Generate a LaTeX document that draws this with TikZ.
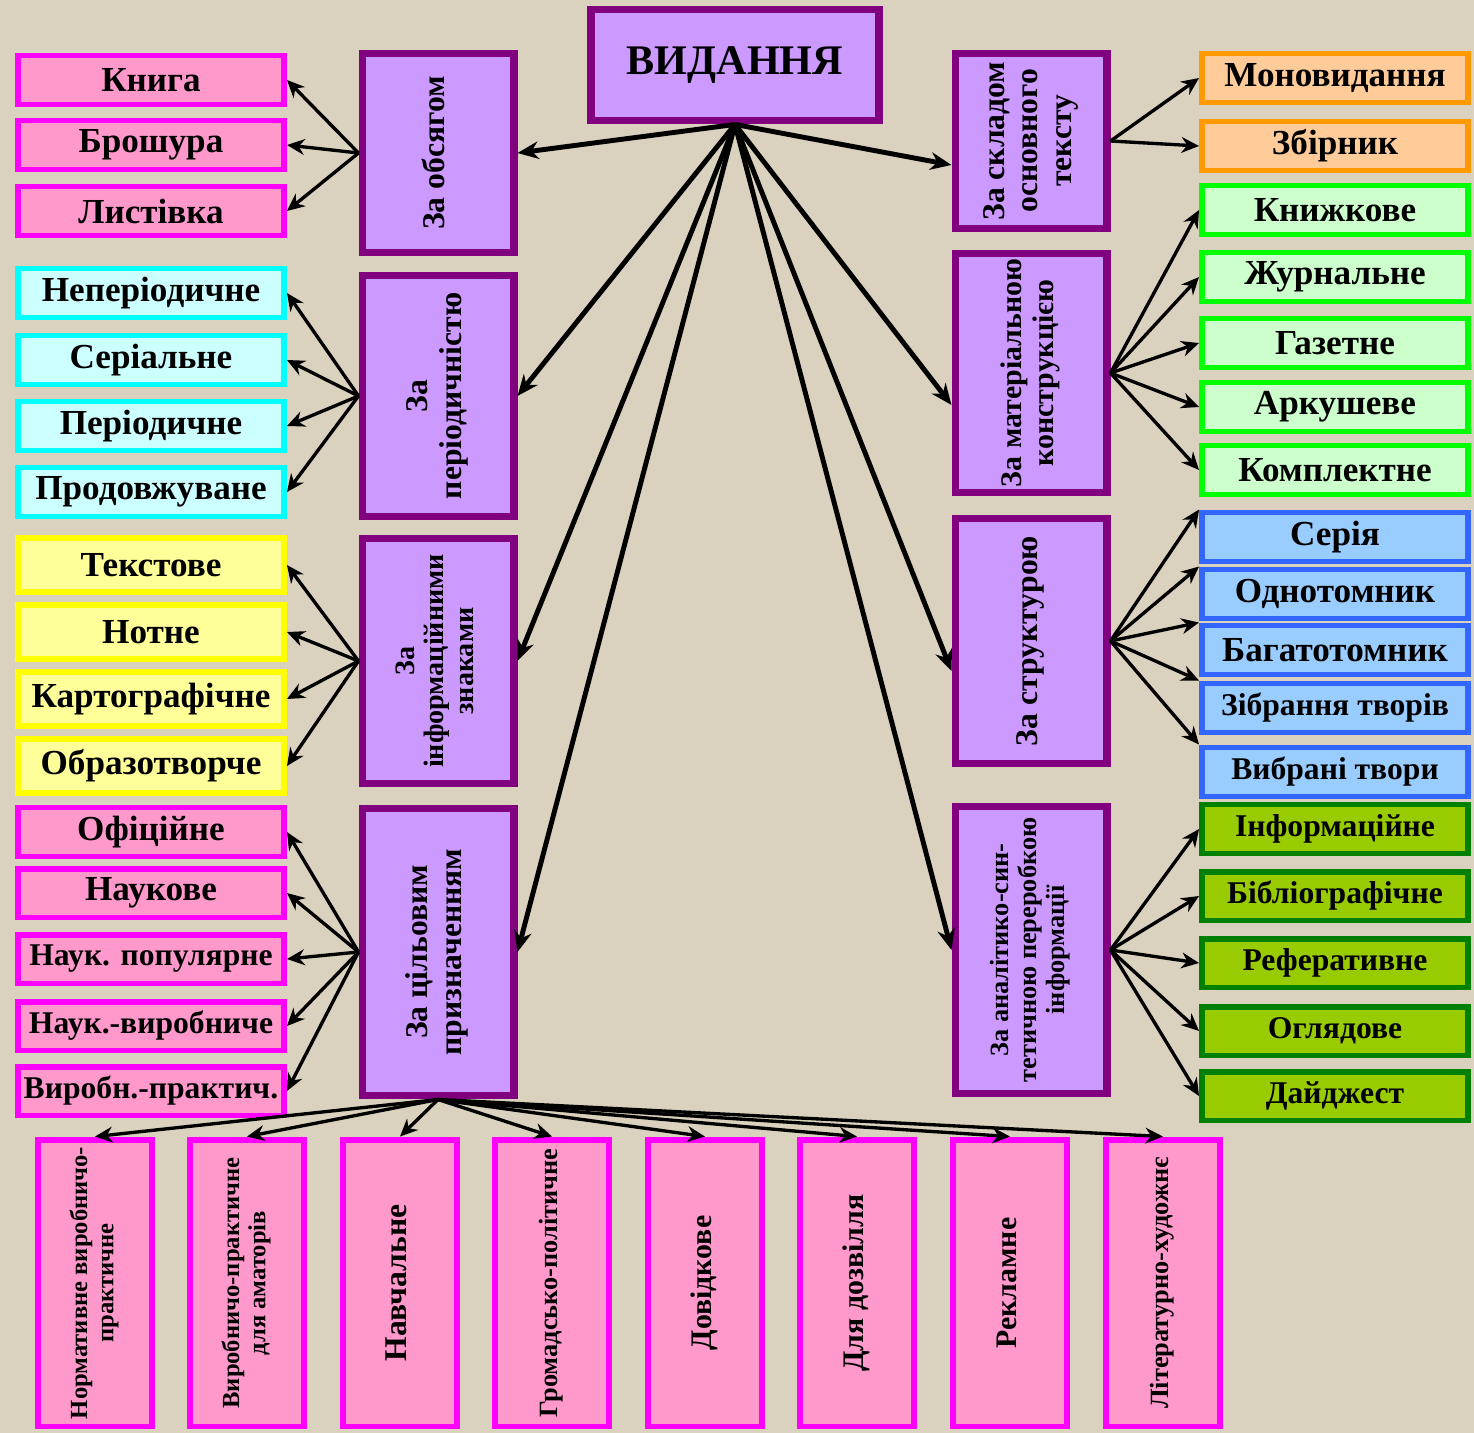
\documentclass[tikz,border=0pt]{standalone}
\usepackage{fontspec}
\setmainfont{Liberation Serif}
\usepackage{graphicx}
\usetikzlibrary{arrows.meta}

\definecolor{paper}{RGB}{218,210,190}
\definecolor{lilac}{HTML}{CC99FF}
\definecolor{plum}{HTML}{800080}
\definecolor{rosefill}{HTML}{FF99CC}
\definecolor{roseline}{HTML}{FF00FF}
\definecolor{icefill}{HTML}{CCFFFF}
\definecolor{iceline}{HTML}{00FFFF}
\definecolor{lemonfill}{HTML}{FFFF99}
\definecolor{lemonline}{HTML}{FFFF00}
\definecolor{peachfill}{HTML}{FFCC99}
\definecolor{peachline}{HTML}{FF9900}
\definecolor{mintfill}{HTML}{CCFFCC}
\definecolor{mintline}{HTML}{00FF00}
\definecolor{skyfill}{HTML}{99CCFF}
\definecolor{skyline}{HTML}{3366FF}
\definecolor{limefill}{HTML}{99CC00}
\definecolor{limeline}{HTML}{008000}

\newcommand{\sidetext}[1]{\rotatebox{90}{\begin{tabular}{@{}c@{}}#1\end{tabular}}}

\begin{document}
\begin{tikzpicture}[
        x=0.02cm, y=-0.02cm,
        root/.style={
                draw=plum,
                fill=lilac,
                line width=4.5pt,
                minimum width=5.76cm,
                minimum height=2.22cm,
                inner sep=0pt,
                font=\fontsize{24}{26}\selectfont\bfseries
            },
        kind/.style={
                draw=plum,
                fill=lilac,
                line width=4pt,
                minimum width=3.04cm,
                inner sep=0pt,
                font=\fontsize{18}{19}\selectfont\bfseries
            },
        leaf/.style={
                line width=3.4pt,
                minimum width=5.32cm,
                minimum height=0.98cm,
                inner sep=0pt,
                font=\fontsize{20}{22}\selectfont\bfseries
            },
        roseleaf/.style={leaf, draw=roseline, fill=rosefill},
        iceleaf/.style={leaf, draw=iceline, fill=icefill},
        lemonleaf/.style={leaf, draw=lemonline, fill=lemonfill, minimum height=1.08cm},
        peachleaf/.style={leaf, draw=peachline, fill=peachfill},
        mintleaf/.style={leaf, draw=mintline, fill=mintfill},
        skyleaf/.style={leaf, draw=skyline, fill=skyfill},
        limeleaf/.style={leaf, draw=limeline, fill=limefill},
        narrow/.style={font=\fontsize{18}{19}\selectfont\bfseries},
        tall/.style={
                draw=roseline,
                fill=rosefill,
                line width=3.4pt,
                minimum width=2.28cm,
                minimum height=5.74cm,
                inner sep=0pt,
                font=\fontsize{17}{18}\selectfont\bfseries
            },
        link/.style={-{Stealth[length=10pt, width=9pt]}, line width=1.9pt},
        trunk/.style={-{Stealth[length=12pt, width=10pt]}, line width=2.8pt}
    ]
    \fill[paper] (0,0) rectangle (1474,1433);

    % root and the eight kinds
    \node[root] (issue) at (735,65) {ВИДАННЯ};

    \node[kind, minimum height=4.0cm] (volume) at (438,153) {\sidetext{За обсягом}};
    \node[kind, minimum height=4.82cm] (period) at (438,396) {\sidetext{За\\періодичністю}};
    \node[kind, minimum height=4.92cm, font=\fontsize{16}{17}\selectfont\bfseries] (signs) at (438,661) {\sidetext{За\\інформаційними\\знаками}};
    \node[kind, minimum height=5.76cm] (purpose) at (438,952) {\sidetext{За цільовим\\призначенням}};

    \node[kind, minimum height=3.5cm] (content) at (1031,141) {\sidetext{За складом\\основного\\тексту}};
    \node[kind, minimum height=4.8cm, font=\fontsize{17}{18}\selectfont\bfseries] (material) at (1031,373) {\sidetext{За матеріальною\\конструкцією}};
    \node[kind, minimum height=4.9cm] (structure) at (1031,641) {\sidetext{За структурою}};
    \node[kind, minimum height=5.76cm, font=\fontsize{15}{16}\selectfont\bfseries] (analytic) at (1031,950) {\sidetext{За аналітико-син-\\тетичною переробкою\\інформації}};

    % left column
    \node[roseleaf] (book) at (151,80) {Книга};
    \node[roseleaf] (brochure) at (151,145) {Брошура};
    \node[roseleaf] (leaflet) at (151,211) {Листівка};

    \node[iceleaf] (nonperiodic) at (151,293) {Неперіодичне};
    \node[iceleaf] (serial) at (151,360) {Серіальне};
    \node[iceleaf] (periodic) at (151,426) {Періодичне};
    \node[iceleaf] (continuing) at (151,492) {Продовжуване};

    \node[lemonleaf] (textual) at (151,565) {Текстове};
    \node[lemonleaf] (musical) at (151,632) {Нотне};
    \node[lemonleaf] (cartographic) at (151,699) {Картографічне};
    \node[lemonleaf] (pictorial) at (151,766) {Образотворче};

    \node[roseleaf] (official) at (151,832) {Офіційне};
    \node[roseleaf] (scientific) at (151,893) {Наукове};
    \node[roseleaf, narrow] (popular) at (151,959) {Наук. популярне};
    \node[roseleaf, narrow] (industrial) at (151,1026) {Наук.-виробниче};
    \node[roseleaf, narrow] (practical) at (151,1091) {Виробн.-практич.};

    % right column
    \node[peachleaf] (mono) at (1335,78) {Моновидання};
    \node[peachleaf] (collection) at (1335,146) {Збірник};

    \node[mintleaf] (bookform) at (1335,210) {Книжкове};
    \node[mintleaf] (journalform) at (1335,277) {Журнальне};
    \node[mintleaf] (newsform) at (1335,343) {Газетне};
    \node[mintleaf] (sheet) at (1335,407) {Аркушеве};
    \node[mintleaf] (kit) at (1335,470) {Комплектне};

    \node[skyleaf] (series) at (1335,537) {Серія};
    \node[skyleaf] (onevolume) at (1335,594) {Однотомник};
    \node[skyleaf] (multivolume) at (1335,650) {Багатотомник};
    \node[skyleaf, narrow] (collected) at (1335,708) {Зібрання творів};
    \node[skyleaf, narrow] (selected) at (1335,772) {Вибрані твори};

    \node[limeleaf, narrow] (informative) at (1335,829) {Інформаційне};
    \node[limeleaf, narrow] (bibliographic) at (1335,896) {Бібліографічне};
    \node[limeleaf, narrow] (abstract) at (1335,963) {Реферативне};
    \node[limeleaf, narrow] (review) at (1335,1031) {Оглядове};
    \node[limeleaf, narrow] (digest) at (1335,1096) {Дайджест};

    % bottom row
    \node[tall, font=\fontsize{14}{15}\selectfont\bfseries] (normative) at (95,1283) {\sidetext{Нормативне виробничо-\\практичне}};
    \node[tall, font=\fontsize{14}{15}\selectfont\bfseries] (amateur) at (247,1283) {\sidetext{Виробничо-практичне\\для аматорів}};
    \node[tall, font=\fontsize{18}{19}\selectfont\bfseries] (training) at (400,1283) {\sidetext{Навчальне}};
    \node[tall, font=\fontsize{15}{16}\selectfont\bfseries] (civic) at (552,1283) {\sidetext{Громадсько-політичне}};
    \node[tall] (reference) at (705,1283) {\sidetext{Довідкове}};
    \node[tall] (leisure) at (857,1283) {\sidetext{Для дозвілля}};
    \node[tall] (advert) at (1010,1283) {\sidetext{Рекламне}};
    \node[tall, font=\fontsize{15}{16}\selectfont\bfseries] (fiction) at (1163,1283) {\sidetext{Літературно-художнє}};

    % connectors
    \path[trunk] (issue.south) edge[trunk] (volume.east) edge[trunk] (period.east) edge[trunk] (signs.east) edge[trunk] (purpose.east)
        edge[trunk] ([yshift=-0.48cm]content.west) edge[trunk] ([yshift=-0.64cm]material.west)
        edge[trunk] ([yshift=-0.6cm]structure.west) edge[trunk] (analytic.west);

    \path[link] (volume.west) edge[link] (book.east) edge[link] (brochure.east) edge[link] (leaflet.east);
    \path[link] (period.west) edge[link] (nonperiodic.east) edge[link] (serial.east) edge[link] (periodic.east) edge[link] (continuing.east);
    \path[link] (signs.west) edge[link] (textual.east) edge[link] (musical.east) edge[link] (cartographic.east) edge[link] (pictorial.east);
    \path[link] (purpose.west) edge[link] (official.east) edge[link] (scientific.east) edge[link] (popular.east) edge[link] (industrial.east) edge[link] (practical.east);

    \path[link] (content.east) edge[link] (mono.west) edge[link] (collection.west);
    \path[link] (material.east) edge[link] (bookform.west) edge[link] (journalform.west) edge[link] (newsform.west) edge[link] (sheet.west) edge[link] (kit.west);
    \path[link] (structure.east) edge[link] (series.north west) edge[link] (onevolume.north west) edge[link] (multivolume.north west) edge[link] (collected.north west) edge[link] (selected.north west);
    \path[link] (analytic.east) edge[link] (informative.west) edge[link] (bibliographic.west) edge[link] (abstract.west) edge[link] (review.west) edge[link] (digest.west);

    \path[link] (purpose.south) edge[link] (normative.north) edge[link] (amateur.north) edge[link] (training.north) edge[link] (civic.north)
        edge[link] (reference.north) edge[link] (leisure.north) edge[link] (advert.north) edge[link] (fiction.north);
\end{tikzpicture}
\end{document}
